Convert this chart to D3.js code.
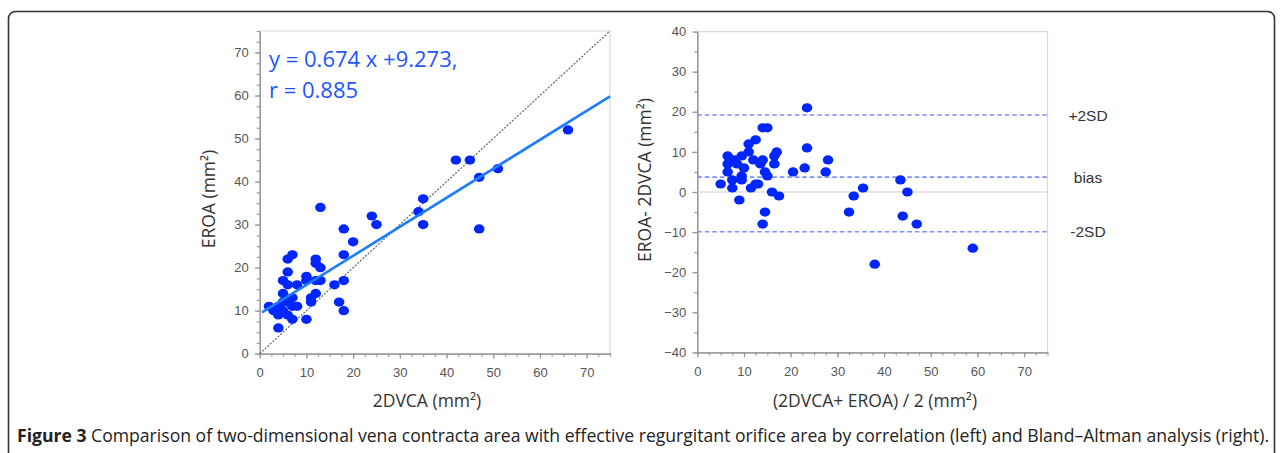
<!DOCTYPE html>
<html>
<head>
<meta charset="utf-8">
<script src="https://cdn.jsdelivr.net/npm/d3@7"></script>
<style>
  body { margin: 0; background: #fff; }
  svg { display: block; }
  .tick text { font-family: "Liberation Sans", Arial, sans-serif; fill: #555; }
</style>
</head>
<body>
<script>
// left panel: correlation, 2DVCA (x) vs EROA (y)
const vcaValues  = [2, 3, 4, 4, 4, 5, 5, 5, 5, 6, 6, 6, 6, 6, 7, 7, 7, 7, 8, 8, 10, 10, 10, 11, 11, 12, 12, 12, 12, 13, 13, 13, 16, 17, 18, 18, 18, 18, 20, 24, 25, 34, 35, 35, 42, 45, 47, 47, 51, 66];
const eroaValues = [11, 10, 11, 9, 6, 17, 14, 12, 10, 19, 22, 16, 12, 9, 23, 13, 11, 8, 16, 11, 18, 17, 8, 13, 12, 14, 17, 22, 21, 20, 17, 34, 16, 12, 10, 17, 23, 29, 26, 32, 30, 33, 36, 30, 45, 45, 41, 29, 43, 52];
const fitSlope = 0.674;
const fitIntercept = 9.273;
const fitFrom = 0.5;
const fitText = ["y = 0.674 x +9.273,", "r = 0.885"];

// right panel: Bland-Altman
const meanValues = [5, 6.5, 6.5, 6.5, 7.5, 7.5, 8, 8.5, 9.5, 9.5, 9.5, 9, 10, 11, 11, 11.5, 12, 12.5, 12.5, 13, 13.5, 14, 14, 15, 14.5, 15, 16.5, 17, 16.5, 16, 17.5, 14.5, 14, 20.5, 23, 23.5, 23.5, 27.5, 28, 32.5, 33.5, 35.5, 38, 43.5, 44, 45, 47, 59];
const diffValues = [2, 9, 7, 5, 3, 1, 8, 7, 4, 9, 3, -2, 6, 10, 12, 1, 8, 13, 2, 2, 7, 8, 16, 16, 5, 4, 9, 10, 7, 0, -1, -5, -8, 5, 6, 11, 21, 5, 8, -5, -1, 1, -18, 3, -6, 0, -8, -14];
const limitValues = [19.2, 3.7, -9.9];
const limitLabels = ["+2SD", "bias", "-2SD"];

const axisTicks = [0, 10, 20, 30, 40, 50, 60, 70];
const diffTicks = [-40, -30, -20, -10, 0, 10, 20, 30, 40];

const caption = "Comparison of two-dimensional vena contracta area with effective regurgitant orifice area by correlation (left) and Bland\u2013Altman analysis (right).";

const W = 1282, H = 453;
const dotColor = "#0026ff";
const titleFont = "'Open Sans', sans-serif";

const svg = d3.select("body").append("svg")
  .attr("width", W).attr("height", H);

// figure frame
svg.append("rect")
  .attr("x", 8.5).attr("y", 11.5)
  .attr("width", 1266).attr("height", 460)
  .attr("rx", 7)
  .attr("fill", "none")
  .attr("stroke", "#333").attr("stroke-width", 1.6);

function minorRange(lo, hi, step) {
  const out = [];
  for (let v = lo; v <= hi + 1e-9; v += step) out.push(v);
  return out;
}

function drawAxes(g, x, y, xTicks, yTicks, yMinorStep) {
  const [x0, x1] = x.range();
  const [y0, y1] = y.range();
  // box
  g.append("path")
    .attr("d", `M${x0},${y1}H${x1}V${y0}`)
    .attr("fill", "none").attr("stroke", "#d8d8d8").attr("stroke-width", 1.2);

  const xMinor = g.append("g").attr("transform", `translate(0,${y0})`)
    .call(d3.axisBottom(x).tickValues(minorRange(x.domain()[0], x.domain()[1], 2.5)).tickSize(3).tickFormat("").tickSizeOuter(0));
  const yMinor = g.append("g").attr("transform", `translate(${x0},0)`)
    .call(d3.axisLeft(y).tickValues(minorRange(y.domain()[0], y.domain()[1], yMinorStep)).tickSize(3).tickFormat("").tickSizeOuter(0));

  const xa = g.append("g").attr("transform", `translate(0,${y0})`)
    .call(d3.axisBottom(x).tickValues(xTicks).tickSize(5).tickPadding(9).tickSizeOuter(0));
  const ya = g.append("g").attr("transform", `translate(${x0},0)`)
    .call(d3.axisLeft(y).tickValues(yTicks).tickSize(5).tickPadding(6).tickSizeOuter(0));

  [xMinor, yMinor, xa, ya].forEach(a => {
    a.selectAll("path, line").attr("stroke", "#999").attr("stroke-width", 1.2);
  });
  [xa, ya].forEach(a => a.selectAll("text").attr("font-size", 13));
}

function title(g, text, x, y, rotate) {
  g.append("text")
    .attr("transform", `translate(${x},${y})` + (rotate ? " rotate(-90)" : ""))
    .attr("text-anchor", "middle")
    .attr("font-family", titleFont)
    .attr("font-size", 17.5).attr("fill", "#333")
    .text(text);
}

// ---------- left panel ----------
const xL = d3.scaleLinear().domain([0, 75]).range([259.7, 610]);
const yL = d3.scaleLinear().domain([0, 75]).range([353.7, 31]);
const gL = svg.append("g");
drawAxes(gL, xL, yL, axisTicks, axisTicks, 2.5);

// identity line
gL.append("line")
  .attr("x1", xL(0)).attr("y1", yL(0))
  .attr("x2", xL(75)).attr("y2", yL(75))
  .attr("stroke", "#666").attr("stroke-width", 1.2)
  .attr("stroke-dasharray", "2,1.5");

gL.selectAll("ellipse.pt")
  .data(vcaValues.map((v, i) => [v, eroaValues[i]]))
  .enter().append("ellipse")
  .attr("class", "pt")
  .attr("cx", d => xL(d[0]))
  .attr("cy", d => yL(d[1]))
  .attr("rx", 5.3).attr("ry", 4.6)
  .attr("fill", dotColor);

// regression line
gL.append("line")
  .attr("x1", xL(fitFrom)).attr("y1", yL(fitSlope * fitFrom + fitIntercept))
  .attr("x2", xL(75)).attr("y2", yL(fitSlope * 75 + fitIntercept))
  .attr("stroke", "#1e7cff").attr("stroke-width", 2.6);

gL.selectAll("text.fit")
  .data(fitText)
  .enter().append("text")
  .attr("class", "fit")
  .attr("x", 269)
  .attr("y", (d, i) => 67 + i * 30.5)
  .attr("font-family", titleFont)
  .attr("font-size", 22)
  .attr("fill", "#2255ff")
  .text(d => d);

title(gL, "2DVCA (mm\u00b2)", 427, 407, false);
title(gL, "EROA (mm\u00b2)", 215, 199, true);

// ---------- right panel ----------
const xR = d3.scaleLinear().domain([0, 75]).range([697.3, 1047.5]);
const yR = d3.scaleLinear().domain([-40, 40]).range([352.4, 31.6]);
const gR = svg.append("g");
drawAxes(gR, xR, yR, axisTicks, diffTicks, 5);

// zero line
gR.append("line")
  .attr("x1", xR(0)).attr("x2", xR(75))
  .attr("y1", yR(0)).attr("y2", yR(0))
  .attr("stroke", "#d0d0d0").attr("stroke-width", 1.2);

gR.selectAll("line.limit")
  .data(limitValues)
  .enter().append("line")
  .attr("class", "limit")
  .attr("x1", xR(0)).attr("x2", xR(75))
  .attr("y1", d => yR(d)).attr("y2", d => yR(d))
  .attr("stroke", "#7f8fff").attr("stroke-width", 1.6)
  .attr("stroke-dasharray", "4.5,3");

gR.selectAll("ellipse.pt")
  .data(meanValues.map((v, i) => [v, diffValues[i]]))
  .enter().append("ellipse")
  .attr("class", "pt")
  .attr("cx", d => xR(d[0]))
  .attr("cy", d => yR(d[1]))
  .attr("rx", 5.3).attr("ry", 4.6)
  .attr("fill", dotColor);

gR.selectAll("text.lim")
  .data(limitValues)
  .enter().append("text")
  .attr("class", "lim")
  .attr("x", 1088)
  .attr("y", d => yR(d) + 5.5)
  .attr("text-anchor", "middle")
  .attr("font-family", "'Liberation Sans', Arial, sans-serif")
  .attr("font-size", 15.5).attr("fill", "#333")
  .text((d, i) => limitLabels[i]);

title(gR, "(2DVCA+ EROA) / 2 (mm\u00b2)", 875, 407, false);
title(gR, "EROA- 2DVCA (mm\u00b2)", 651, 180, true);

// ---------- caption ----------
const cap = svg.append("text")
  .attr("x", 17).attr("y", 442)
  .attr("font-family", titleFont)
  .attr("font-size", 16).attr("fill", "#222");
cap.append("tspan").attr("font-weight", "bold").text("Figure 3");
cap.append("tspan").text(" " + caption);
const capW = cap.node().getComputedTextLength();
cap.attr("font-size", 16 * 1253 / capW);
</script>
</body>
</html>
